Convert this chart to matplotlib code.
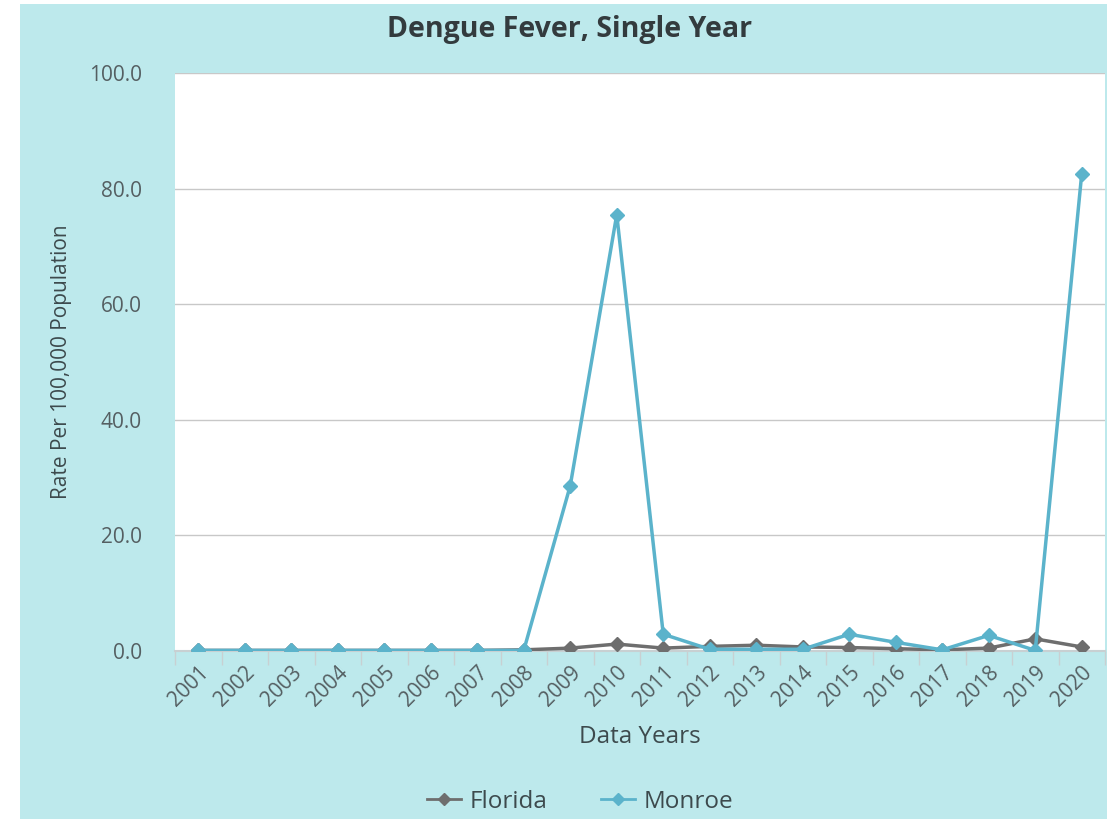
import matplotlib
matplotlib.use("Agg")
import matplotlib.pyplot as plt
from matplotlib.patches import Rectangle
from matplotlib.transforms import ScaledTranslation

years = [str(y) for y in range(2001, 2021)]
florida = [0.1, 0.1, 0.1, 0.1, 0.1, 0.1, 0.1, 0.2, 0.5, 1.2, 0.5, 0.8, 1.0, 0.7, 0.6, 0.4, 0.2, 0.5, 2.1, 0.7]
monroe = [0.1, 0.1, 0.1, 0.1, 0.1, 0.1, 0.1, 0.1, 28.6, 75.5, 2.9, 0.3, 0.3, 0.3, 2.9, 1.5, 0.2, 2.7, 0.1, 82.6]
yticks = [0, 20, 40, 60, 80, 100]

BG = "#bde9ec"
FL_C = "#6e6e6e"
MO_C = "#5bb3cb"
TXT = "#3d4a4d"

plt.rcParams['font.family'] = ['Open Sans', 'DejaVu Sans']

W, H = 1120, 819
fig = plt.figure(figsize=(W/100, H/100), dpi=100)
fig.patch.set_facecolor("white")
fig.add_artist(Rectangle((20/W, 0), (1107-20)/W, (819-4)/H, transform=fig.transFigure,
                         facecolor=BG, edgecolor="none", zorder=0))

ax = fig.add_axes([175/W, 1-651/H, (1105-175)/W, (651-73)/H])
ax.set_facecolor("white")
x = list(range(len(years)))
ax.plot(x, florida, color=FL_C, lw=2.5, marker="D", ms=7, zorder=3, label="Florida")
ax.plot(x, monroe, color=MO_C, lw=2.5, marker="D", ms=7, zorder=4, label="Monroe")

ax.set_xlim(-0.5, len(years)-0.5)
ax.set_ylim(0, 100)
ax.set_yticks(yticks)
ax.set_yticklabels([f"{v:.1f}" for v in yticks], fontsize=15, color="#555f62")
ax.yaxis.grid(True, color="#c8c8c8", lw=1)
ax.set_axisbelow(True)
ax.tick_params(axis="y", length=0, pad=24)

ax.set_xticks(x)
ax.set_xticklabels(years, rotation=45, ha="right", rotation_mode="anchor", fontsize=15, color="#555f62")
shift = ScaledTranslation(-8/100, 0, fig.dpi_scale_trans)
for lbl in ax.get_xticklabels():
    lbl.set_transform(lbl.get_transform() + shift)
ax.set_xticks([i - 0.5 for i in range(len(years)+1)], minor=True)
ax.tick_params(axis="x", which="major", length=0, pad=8)
ax.tick_params(axis="x", which="minor", length=10, color="#c8d0d2", width=1)

for s in ["top", "right", "left"]:
    ax.spines[s].set_visible(False)
ax.spines["bottom"].set_color("#c8d0d2")
ax.spines["bottom"].set_linewidth(1.5)

ax.set_xlabel("Data Years", fontsize=17.5, color=TXT, labelpad=10)
ax.set_ylabel("Rate Per 100,000 Population", fontsize=15, color=TXT, labelpad=12)

fig.text(570/W, 1-29/H, "Dengue Fever, Single Year", ha="center", va="center",
         fontsize=20.5, fontweight="bold", color="#333b3e")

leg = fig.legend(loc="center", bbox_to_anchor=(580/W, 1-802/H), ncol=2, frameon=False,
                 fontsize=17.5, handlelength=1.4, handletextpad=0.35, columnspacing=2.2,
                 labelcolor=TXT)
for h in leg.legend_handles:
    h.set_markersize(6)
    h.set_linewidth(2)

fig.savefig("out.png", dpi=100, facecolor=fig.get_facecolor())
